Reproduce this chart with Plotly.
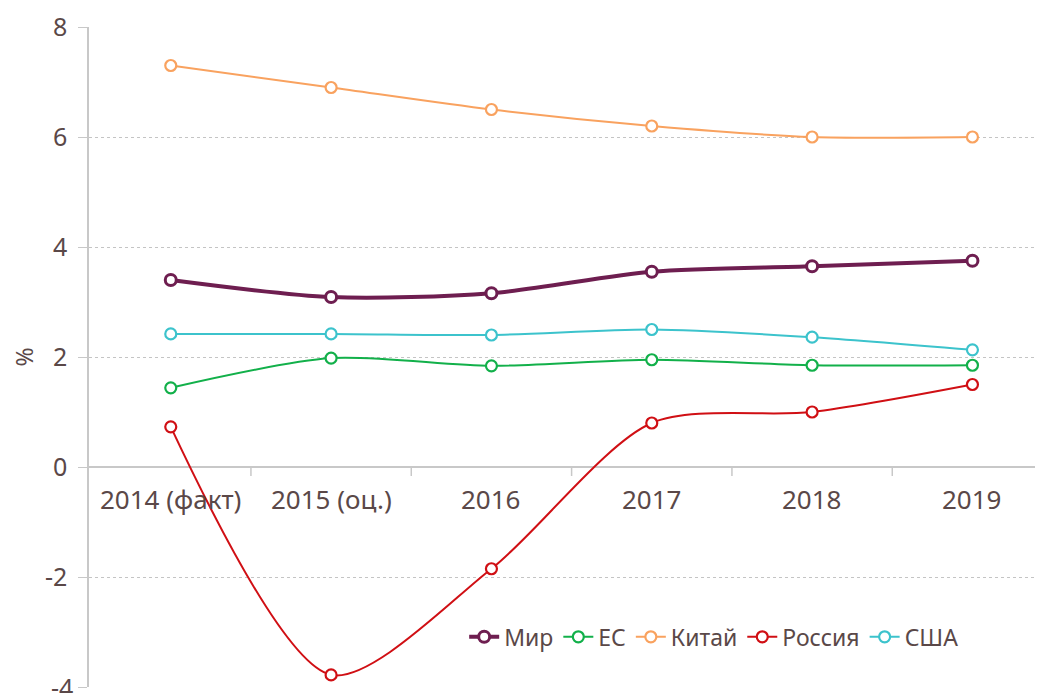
import plotly.graph_objects as go

categories = ["2014 (факт)", "2015 (оц.)", "2016", "2017", "2018", "2019"]
mir = [3.4, 3.09, 3.16, 3.55, 3.65, 3.75]
es = [1.44, 1.98, 1.84, 1.95, 1.85, 1.85]
china = [7.3, 6.9, 6.5, 6.2, 6.0, 6.0]
russia = [0.73, -3.78, -1.85, 0.8, 1.0, 1.5]
usa = [2.42, 2.42, 2.4, 2.5, 2.36, 2.13]
y_ticks = [-4, -2, 0, 2, 4, 6, 8]
y_tick_labels = ["-4", "-2", "0", "2", "4", "6", "8"]

series = [
    ("Мир", mir, "#6E1E50", 4),
    ("ЕС", es, "#12B04A", 2),
    ("Китай", china, "#F9A25F", 2),
    ("Россия", russia, "#D00F14", 2),
    ("США", usa, "#3CC3CC", 2),
]

FONT = "Noto Sans"
TXT = "#5A4848"

x = list(range(len(categories)))
fig = go.Figure()
for name, vals, col, w in series:
    fig.add_trace(go.Scatter(
        x=x, y=vals, name=name, mode="lines+markers",
        line=dict(color=col, width=w, shape="spline", smoothing=0.8),
        marker=dict(symbol="circle", size=11, color="white",
                    line=dict(color=col, width=3 if w > 2 else 2.2)),
    ))

# category labels placed just below the zero line
for i, c in enumerate(categories):
    fig.add_annotation(x=i, y=0, xref="x", yref="y", text=c, showarrow=False,
                       yanchor="top", yshift=-12, font=dict(family=FONT, size=26, color=TXT))
# tick marks between categories on the zero line
for i in range(len(categories) - 1):
    fig.add_shape(type="line", xref="x", yref="y", x0=i + 0.5, x1=i + 0.5,
                  ysizemode="pixel", yanchor=0, y0=0, y1=-9,
                  line=dict(color="#C8C8C8", width=1.5))

# bottom-edge tick label (plotly drops it at the range edge)
axis_labels = [""] + y_tick_labels[1:]
fig.add_annotation(x=0, y=y_ticks[0], xref="paper", yref="y", text=y_tick_labels[0],
                   showarrow=False, xanchor="right", yanchor="middle", xshift=-14,
                   font=dict(family=FONT, size=25, color=TXT))

fig.update_layout(
    width=1043, height=693,
    margin=dict(l=81, r=0, t=19, b=14),
    plot_bgcolor="white", paper_bgcolor="white",
    font=dict(family=FONT, color=TXT),
    showlegend=True,
    legend=dict(orientation="h", x=0.39, y=0.076, xanchor="left", yanchor="middle",
                font=dict(family=FONT, size=23, color=TXT), bgcolor="rgba(0,0,0,0)",
                itemwidth=30, tracegroupgap=0),
    xaxis=dict(range=[-0.51, 5.49], showticklabels=False, showgrid=False,
               zeroline=False, showline=False, ticks="", automargin=False),
    yaxis=dict(range=[-4, 8], tickvals=y_ticks, ticktext=axis_labels,
               showgrid=True, gridcolor="#C4C4C4", automargin=False,
               griddash="dot", gridwidth=1, zeroline=True, zerolinecolor="#C8C8C8",
               zerolinewidth=1.5, showline=True, linecolor="#C8C8C8", linewidth=1.5,
               ticks="outside", ticklen=9, tickcolor="#C8C8C8", ticklabelstandoff=6,
               tickfont=dict(family=FONT, size=25, color=TXT),
               title=dict(text="%", font=dict(family=FONT, size=23, color=TXT), standoff=8)),
)

fig.write_html("out.html")
